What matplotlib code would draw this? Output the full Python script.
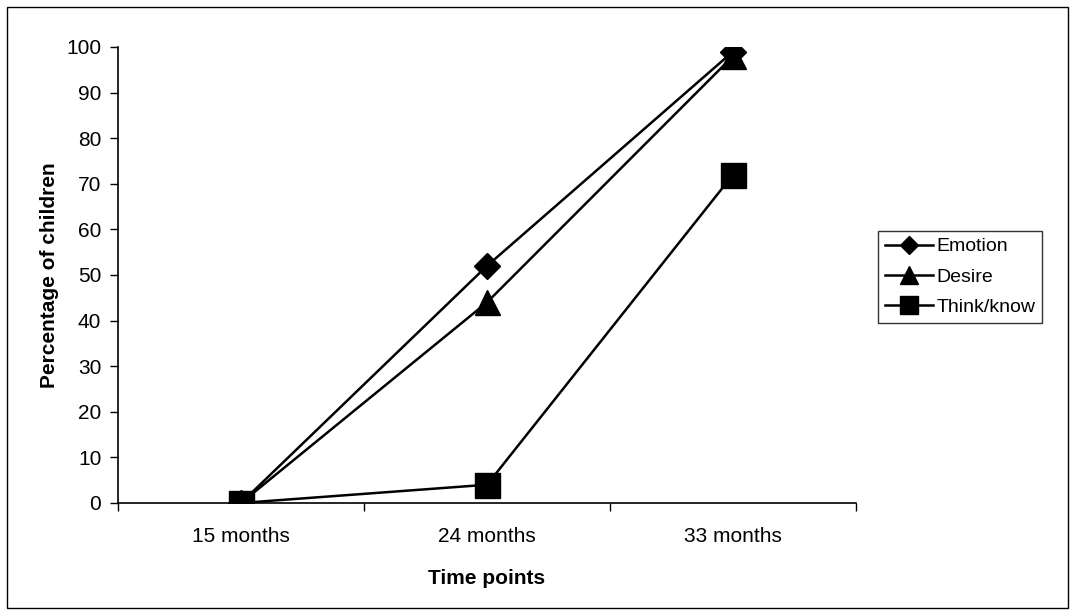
import matplotlib.pyplot as plt
from matplotlib.patches import Rectangle

plt.rcParams['font.family'] = ['Liberation Sans', 'DejaVu Sans']

# time points and percentages per mental-state category
time_points = ["15 months", "24 months", "33 months"]
emotion = [0, 52, 99]
desire = [0, 44, 98]
think_know = [0, 4, 72]

fig = plt.figure(figsize=(10.75, 6.11), dpi=100)
ax = fig.add_axes([0.1098, 0.1768, 0.6865, 0.7463])

x = list(range(len(time_points)))
ax.plot(x, emotion, color="black", lw=1.8, marker="D", ms=13, label="Emotion")
ax.plot(x, desire, color="black", lw=1.8, marker="^", ms=18, label="Desire")
ax.plot(x, think_know, color="black", lw=1.8, marker="s", ms=18, label="Think/know")

ax.set_xlim(-0.5, len(time_points) - 0.5)
ax.set_ylim(0, 100)
ax.set_yticks(range(0, 101, 10))
ax.set_xticks(x)
ax.set_xticklabels(time_points)
# category boundary ticks, drawn as minor ticks
ax.set_xticks([i - 0.5 for i in range(len(time_points) + 1)], minor=True)
ax.tick_params(axis="x", which="major", length=0, pad=17, labelsize=15)
ax.tick_params(axis="x", which="minor", length=6, width=1, direction="out")
ax.tick_params(axis="y", length=6, width=1, direction="out", labelsize=15, pad=6)

for side in ("top", "right"):
    ax.spines[side].set_visible(False)
ax.spines["left"].set_linewidth(1.2)
ax.spines["bottom"].set_linewidth(1.2)

ax.set_xlabel("Time points", fontsize=15, fontweight="bold", labelpad=17)
ax.set_ylabel("Percentage of children", fontsize=15, fontweight="bold", labelpad=5)

leg = ax.legend(loc="upper left", bbox_to_anchor=(878 / 1075, 1 - 231 / 611),
                bbox_transform=fig.transFigure, frameon=True, fancybox=False,
                fontsize=14, handlelength=2.5, handletextpad=0.15,
                borderpad=0.35, labelspacing=0.65, markerscale=0.7,
                borderaxespad=0)
leg.get_frame().set_edgecolor("black")
leg.get_frame().set_linewidth(1.0)

# outer chart border
fig.patches.append(Rectangle((7 / 1075, 3 / 611), 1061 / 1075, 601 / 611,
                             transform=fig.transFigure, fill=False,
                             edgecolor="black", lw=1.0))

fig.savefig("out.png", dpi=100)
